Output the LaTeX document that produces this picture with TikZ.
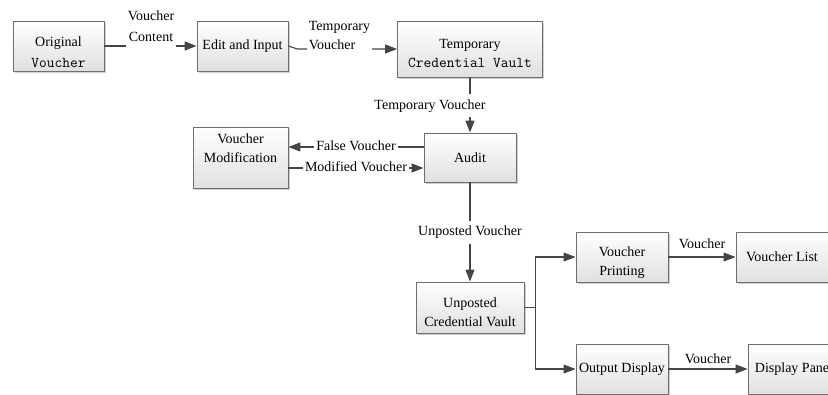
\documentclass[tikz,border=0pt]{standalone}
\usepackage{fontspec}
\setmainfont{Liberation Serif}
\usetikzlibrary{arrows.meta,shadows}
\definecolor{lineC}{HTML}{454545}
\definecolor{boxC}{HTML}{6E6E6E}
\definecolor{shadeC}{HTML}{E0E0E0}
\begin{document}
\begin{tikzpicture}[x=1pt,y=-1pt,
  box/.style={draw=boxC, line width=0.9pt, top color=white, bottom color=shadeC,
    drop shadow={shadow xshift=1.5pt, shadow yshift=-1.5pt, fill=black!30, opacity=0.6},
    align=center, inner sep=1pt, text=black,
    font=\fontsize{14}{19}\selectfont},
  lbl/.style={fill=white, inner sep=2pt, align=center, font=\fontsize{14}{19}\selectfont},
  plainlbl/.style={inner sep=1pt, font=\fontsize{14}{19}\selectfont},
  arr/.style={draw=lineC, line width=1.1pt, -{Triangle[length=12pt,width=9pt]}},
  ln/.style={draw=lineC, line width=1.1pt}]
\useasboundingbox (0,0) rectangle (828,394);
\clip (0,0) rectangle (828,394);
\fill[white] (0,0) rectangle (828,394);

% boxes
\node[box, minimum width=91pt, minimum height=50pt] (ov) at (58.5,46)
  {\rule{0pt}{22pt}Original\\[2pt]{\ttfamily\fontsize{15}{19}\selectfont Voucher}};
\node[box, minimum width=91pt, minimum height=50pt] (ei) at (242.5,46) {Edit and Input};
\node[box, minimum width=145pt, minimum height=56pt] (tv) at (470,49)
  {\rule{0pt}{19pt}Temporary\\{\ttfamily\fontsize{15}{19}\selectfont Credential Vault}};
\node[box, minimum width=92pt, minimum height=49pt] (au) at (470,157.5) {Audit};
\node[box, minimum width=95pt, minimum height=61pt] (vm) at (240.5,157.5)
  {Voucher\\Modification\rule[-19pt]{0pt}{1pt}};
\node[box, minimum width=108pt, minimum height=51pt] (uv) at (470,307.5)
  {\rule{0pt}{20pt}Unposted\\Credential Vault};
\node[box, minimum width=92pt, minimum height=50pt] (vp) at (622,257)
  {\rule{0pt}{21pt}Voucher\\Printing};
\node[box, minimum width=92pt, minimum height=50pt] (vl) at (782,257) {Voucher List};
\node[box, minimum width=92pt, minimum height=50pt] (od) at (622,369) {Output Display};
\node[box, minimum width=92pt, minimum height=50pt] (dp) at (794,369) {Display Panel};

% connectors
\draw[arr] (ov.east) -- (ei.west);
\node[lbl] (l1) at (151,27) {\strut Voucher\\[2pt]\strut Content};

\draw[arr] (ei.east) -- ([xshift=9pt]ei.east |- tv.west) -- (tv.west);
\node[lbl, align=left] (l2) at (339.5,36) {\strut Temporary\\\strut Voucher};

\draw[arr] (tv.south) -- (au.north);
\node[lbl] (l3) at (430,105.5) {\strut Temporary Voucher};

\draw[arr] ([yshift=10.5pt]au.west) -- ([yshift=10.5pt]vm.east)
  node[lbl, midway] (l4) {\strut False Voucher};
\draw[arr] ([yshift=-10.5pt]vm.east) -- ([yshift=-10.5pt]au.west)
  node[lbl, midway] (l5) {\strut Modified Voucher};

\draw[arr] (au.south) -- (uv.north)
  node[lbl, midway] (l6) {\strut Unposted Voucher};

\coordinate (fork) at ([xshift=11pt]uv.east);
\draw[ln] (uv.east) -- (fork);
\draw[arr] (fork) |- (vp.west);
\draw[arr] (fork) |- (od.west);

\draw[arr] (vp.east) -- (vl.west)
  node[plainlbl, midway, yshift=13pt] (l7) {Voucher};
\draw[arr] (od.east) -- (dp.west)
  node[plainlbl, midway, yshift=10pt] (l8) {Voucher};
\end{tikzpicture}
\end{document}
